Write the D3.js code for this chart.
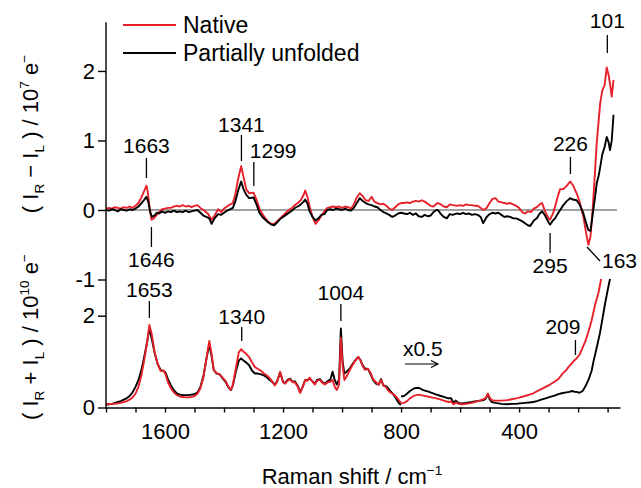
<!DOCTYPE html>
<html>
<head>
<meta charset="utf-8">
<script src="https://cdn.jsdelivr.net/npm/d3@7"></script>
<style>
  body { margin: 0; background: #fff; }
  svg { display: block; font-family: "Liberation Sans", Arial, sans-serif; }
</style>
</head>
<body>
<svg id="chart" width="641" height="488"></svg>
<script>
// ROA spectra, (I_R - I_L) in units of 10^7 e-, pairs of [shift cm-1, value]
var roaNative = [
  [1800, 0.02], [1790, 0.03], [1780, 0.02], [1770, 0.04], [1760, 0.03], [1750, 0.02], [1740, 0.04],
  [1730, 0.03], [1720, 0.05], [1710, 0.03], [1700, 0.06], [1690, 0.10], [1680, 0.18], [1670, 0.28],
  [1663, 0.35], [1658, 0.25], [1652, 0.02], [1646, -0.14], [1638, -0.12], [1630, -0.08], [1620, -0.03],
  [1610, 0.01], [1600, 0.02], [1590, 0.03], [1580, 0.03], [1570, 0.05], [1560, 0.06], [1550, 0.05],
  [1540, 0.07], [1530, 0.05], [1520, 0.06], [1510, 0.04], [1500, 0.06], [1490, 0.07], [1480, 0.03],
  [1470, 0.0], [1455, -0.05], [1442, -0.14], [1432, -0.08], [1420, 0.01], [1410, -0.03], [1400, 0.02],
  [1390, 0.05], [1380, 0.08], [1370, 0.10], [1362, 0.22], [1352, 0.45], [1342, 0.63], [1334, 0.48],
  [1325, 0.30], [1315, 0.24], [1300, 0.25], [1290, 0.15], [1280, 0.02], [1270, -0.06], [1260, -0.12],
  [1250, -0.17], [1240, -0.20], [1230, -0.20], [1220, -0.16], [1210, -0.12], [1200, -0.08], [1190, -0.04],
  [1180, 0.0], [1170, 0.03], [1160, 0.07], [1150, 0.10], [1140, 0.14], [1130, 0.22], [1125, 0.28],
  [1118, 0.20], [1110, 0.05], [1100, -0.10], [1090, -0.20], [1080, -0.15], [1070, -0.08], [1060, -0.02],
  [1050, 0.03], [1040, 0.04], [1030, 0.05], [1020, 0.04], [1010, 0.05], [1000, 0.03], [990, 0.05],
  [980, 0.04], [970, 0.02], [960, 0.08], [950, 0.18], [940, 0.24], [930, 0.20], [920, 0.14], [910, 0.13],
  [900, 0.19], [890, 0.12], [880, 0.10], [870, 0.08], [860, 0.09], [850, 0.06], [840, 0.02], [830, 0.0],
  [820, 0.04], [810, 0.08], [800, 0.10], [790, 0.10], [780, 0.11], [770, 0.10], [760, 0.12], [750, 0.13],
  [740, 0.12], [730, 0.14], [720, 0.12], [710, 0.09], [700, 0.06], [690, 0.05], [680, 0.09], [675, 0.10],
  [665, 0.08], [655, 0.05], [645, 0.04], [635, 0.08], [625, 0.07], [610, 0.06], [600, 0.07], [590, 0.06],
  [580, 0.08], [570, 0.07], [560, 0.07], [550, 0.06], [540, 0.06], [530, 0.03], [520, 0.0], [510, 0.03],
  [500, 0.10], [490, 0.16], [480, 0.17], [470, 0.12], [460, 0.11], [450, 0.10], [440, 0.09], [430, 0.10],
  [420, 0.08], [410, 0.06], [400, 0.03], [390, -0.03], [380, -0.05], [370, -0.02], [360, -0.03],
  [350, 0.02], [340, 0.04], [330, 0.08], [322, 0.10], [312, -0.02], [300, -0.12], [295, -0.14],
  [285, -0.05], [278, 0.05], [270, 0.18], [261, 0.30], [250, 0.30], [240, 0.34], [227, 0.41], [218, 0.36],
  [205, 0.24], [195, 0.12], [182, -0.10], [172, -0.35], [165, -0.50], [158, -0.38], [150, 0.05],
  [142, 0.60], [137, 0.96], [130, 1.30], [125, 1.54], [118, 1.72], [110, 1.80], [103, 2.05], [97, 1.95],
  [92, 1.82], [86, 1.63], [80, 1.87]
];

var roaUnfolded = [
  [1800, 0.0], [1790, -0.01], [1780, 0.01], [1770, 0.0], [1760, -0.02], [1750, 0.01], [1740, 0.0],
  [1730, -0.01], [1720, 0.01], [1710, 0.0], [1700, 0.02], [1690, 0.05], [1680, 0.10], [1670, 0.15],
  [1663, 0.19], [1657, 0.12], [1650, -0.03], [1644, -0.10], [1636, -0.08], [1628, -0.04], [1620, -0.05],
  [1610, -0.02], [1600, -0.04], [1590, -0.02], [1580, -0.03], [1570, -0.01], [1560, -0.03], [1550, -0.02],
  [1540, -0.03], [1530, -0.01], [1520, -0.03], [1510, -0.02], [1500, -0.01], [1490, 0.0], [1480, -0.04],
  [1470, -0.08], [1460, -0.10], [1450, -0.12], [1442, -0.20], [1432, -0.12], [1420, -0.06], [1410, -0.07],
  [1400, -0.04], [1390, -0.01], [1380, 0.01], [1370, 0.03], [1362, 0.12], [1352, 0.28], [1342, 0.41],
  [1334, 0.30], [1325, 0.22], [1315, 0.17], [1300, 0.18], [1290, 0.08], [1280, -0.04], [1270, -0.10],
  [1260, -0.14], [1250, -0.18], [1240, -0.21], [1230, -0.22], [1220, -0.18], [1210, -0.13], [1200, -0.10],
  [1190, -0.07], [1180, -0.04], [1170, -0.01], [1160, 0.03], [1150, 0.05], [1140, 0.08], [1130, 0.12],
  [1125, 0.15], [1118, 0.10], [1110, -0.02], [1100, -0.10], [1090, -0.15], [1080, -0.12], [1070, -0.07],
  [1060, -0.06], [1050, 0.0], [1040, 0.01], [1030, 0.0], [1020, 0.02], [1010, 0.01], [1000, 0.0],
  [990, 0.02], [980, 0.0], [970, -0.01], [960, 0.03], [950, 0.10], [940, 0.17], [930, 0.13], [920, 0.10],
  [910, 0.08], [900, 0.07], [890, 0.05], [880, 0.04], [870, 0.0], [860, -0.03], [850, -0.05], [840, -0.07],
  [830, -0.10], [820, -0.08], [810, -0.05], [800, -0.04], [790, -0.05], [780, -0.06], [770, -0.04],
  [760, -0.07], [750, -0.05], [740, -0.09], [730, -0.10], [720, -0.07], [710, -0.09], [700, -0.08],
  [690, -0.03], [680, 0.0], [675, 0.0], [665, -0.06], [655, -0.10], [645, -0.12], [635, -0.06],
  [625, -0.07], [610, -0.05], [600, -0.06], [590, -0.04], [580, -0.06], [570, -0.05], [560, -0.07],
  [550, -0.06], [540, -0.07], [530, -0.10], [522, -0.19], [510, -0.10], [500, -0.06], [490, -0.04],
  [480, -0.05], [470, -0.04], [460, -0.07], [450, -0.10], [440, -0.09], [430, -0.10], [420, -0.12],
  [410, -0.12], [400, -0.14], [390, -0.16], [380, -0.19], [370, -0.22], [362, -0.23], [350, -0.15],
  [340, -0.12], [330, -0.05], [322, -0.02], [312, -0.08], [300, -0.18], [295, -0.21], [285, -0.15],
  [278, -0.12], [270, -0.06], [261, 0.0], [250, 0.07], [240, 0.12], [227, 0.17], [218, 0.15], [205, 0.14],
  [195, 0.08], [182, -0.05], [172, -0.20], [165, -0.29], [158, -0.30], [150, -0.05], [142, 0.20],
  [137, 0.38], [130, 0.50], [125, 0.62], [118, 0.80], [110, 0.91], [103, 1.05], [97, 0.98], [92, 0.86],
  [86, 1.00], [80, 1.37]
];

// Raman spectra, (I_R + I_L) in units of 10^10 e-; below 800 cm-1 shown scaled x0.5
var ramanNativeHigh = [
  [1800, 0.07], [1790, 0.07], [1780, 0.08], [1770, 0.08], [1760, 0.09], [1750, 0.10], [1740, 0.12],
  [1730, 0.14], [1720, 0.17], [1710, 0.22], [1700, 0.30], [1690, 0.45], [1680, 0.70], [1670, 1.05],
  [1660, 1.45], [1653, 1.80], [1645, 1.60], [1635, 1.20], [1625, 0.95], [1615, 0.80], [1605, 0.80],
  [1598, 0.72], [1590, 0.55], [1580, 0.42], [1570, 0.33], [1560, 0.27], [1550, 0.24], [1540, 0.23],
  [1530, 0.22], [1520, 0.22], [1510, 0.23], [1500, 0.25], [1490, 0.30], [1480, 0.42], [1470, 0.65],
  [1460, 1.05], [1450, 1.45], [1443, 1.20], [1435, 0.82], [1425, 0.75], [1415, 0.72], [1405, 0.65],
  [1395, 0.58], [1385, 0.45], [1377, 0.38], [1370, 0.50], [1360, 0.85], [1350, 1.20], [1342, 1.27],
  [1335, 1.22], [1325, 1.17], [1315, 1.10], [1305, 0.98], [1295, 0.88], [1285, 0.84], [1275, 0.80],
  [1265, 0.74], [1255, 0.70], [1245, 0.64], [1235, 0.55], [1228, 0.48], [1220, 0.56], [1210, 0.78],
  [1200, 0.55], [1193, 0.52], [1185, 0.58], [1176, 0.62], [1168, 0.55], [1160, 0.55], [1150, 0.45],
  [1142, 0.32], [1133, 0.45], [1125, 0.60], [1118, 0.58], [1110, 0.65], [1100, 0.56], [1092, 0.50],
  [1085, 0.58], [1075, 0.60], [1066, 0.53], [1058, 0.50], [1048, 0.55], [1040, 0.56], [1032, 0.60],
  [1025, 0.45], [1018, 0.38], [1010, 0.50], [1004, 1.52], [998, 0.90], [992, 0.60], [985, 0.67],
  [975, 0.80], [965, 0.92], [955, 1.02], [945, 1.10], [938, 1.03], [930, 0.90], [922, 0.82], [912, 0.84],
  [903, 0.75], [895, 0.62], [885, 0.55], [876, 0.50], [868, 0.60], [860, 0.48], [852, 0.45], [845, 0.38],
  [837, 0.33], [828, 0.30], [820, 0.26], [812, 0.20], [805, 0.14], [800, 0.10]
];
var ramanNativeLow = [
  [800, 0.09], [790, 0.10], [780, 0.14], [770, 0.20], [755, 0.26], [740, 0.28], [725, 0.26], [710, 0.24],
  [696, 0.22], [680, 0.20], [665, 0.17], [655, 0.15], [640, 0.12], [630, 0.13], [622, 0.07], [615, 0.11],
  [605, 0.08], [595, 0.07], [580, 0.08], [560, 0.10], [545, 0.13], [530, 0.16], [520, 0.18], [512, 0.22],
  [506, 0.30], [500, 0.22], [493, 0.16], [480, 0.15], [460, 0.15], [440, 0.16], [425, 0.18], [410, 0.20],
  [397, 0.22], [380, 0.25], [365, 0.28], [352, 0.31], [340, 0.35], [325, 0.40], [310, 0.45], [295, 0.50],
  [280, 0.56], [267, 0.62], [255, 0.72], [240, 0.82], [230, 0.90], [220, 0.97], [212, 1.03], [205, 1.07],
  [195, 1.15], [185, 1.30], [175, 1.45], [165, 1.65], [154, 1.90], [142, 2.25], [131, 2.50], [122, 2.80],
  [112, 3.10]
];

var ramanUnfoldedHigh = [
  [1800, 0.06], [1790, 0.07], [1780, 0.08], [1770, 0.10], [1760, 0.12], [1750, 0.14], [1740, 0.17],
  [1730, 0.20], [1720, 0.25], [1710, 0.33], [1700, 0.45], [1690, 0.60], [1680, 0.82], [1670, 1.12],
  [1660, 1.45], [1653, 1.72], [1645, 1.50], [1635, 1.18], [1625, 0.95], [1615, 0.82], [1605, 0.80],
  [1598, 0.76], [1590, 0.62], [1580, 0.48], [1570, 0.38], [1560, 0.31], [1550, 0.28], [1540, 0.27],
  [1530, 0.27], [1520, 0.27], [1510, 0.28], [1500, 0.29], [1490, 0.33], [1480, 0.45], [1470, 0.68],
  [1460, 1.05], [1450, 1.37], [1443, 1.15], [1435, 0.82], [1425, 0.74], [1415, 0.72], [1405, 0.64],
  [1395, 0.56], [1385, 0.44], [1377, 0.38], [1370, 0.48], [1360, 0.78], [1350, 1.02], [1342, 1.07],
  [1335, 1.03], [1325, 0.98], [1315, 0.92], [1305, 0.80], [1295, 0.74], [1285, 0.74], [1275, 0.72],
  [1265, 0.70], [1255, 0.66], [1245, 0.60], [1235, 0.55], [1228, 0.50], [1220, 0.57], [1210, 0.76],
  [1200, 0.56], [1193, 0.53], [1185, 0.60], [1176, 0.63], [1168, 0.56], [1160, 0.57], [1150, 0.47],
  [1142, 0.33], [1133, 0.46], [1125, 0.60], [1118, 0.60], [1110, 0.63], [1100, 0.57], [1092, 0.52],
  [1085, 0.60], [1075, 0.62], [1066, 0.55], [1058, 0.52], [1048, 0.58], [1040, 0.60], [1032, 0.78],
  [1025, 0.60], [1018, 0.50], [1010, 0.62], [1004, 1.72], [998, 1.00], [992, 0.74], [985, 0.78],
  [975, 0.84], [965, 0.94], [955, 1.03], [945, 1.10], [938, 1.04], [930, 0.92], [922, 0.85], [912, 0.84],
  [903, 0.72], [895, 0.60], [885, 0.52], [876, 0.50], [868, 0.62], [860, 0.48], [852, 0.47], [845, 0.43],
  [837, 0.36], [828, 0.30], [820, 0.23], [812, 0.14], [805, 0.08], [800, 0.06]
];
var ramanUnfoldedLow = [
  [800, 0.24], [790, 0.25], [780, 0.30], [770, 0.36], [755, 0.42], [740, 0.43], [725, 0.38], [710, 0.35],
  [696, 0.32], [680, 0.28], [665, 0.25], [655, 0.23], [640, 0.20], [630, 0.20], [622, 0.10], [615, 0.15],
  [605, 0.10], [595, 0.09], [580, 0.10], [560, 0.12], [545, 0.14], [530, 0.15], [520, 0.16], [512, 0.20],
  [506, 0.30], [500, 0.18], [493, 0.12], [480, 0.10], [460, 0.08], [440, 0.07], [425, 0.08], [410, 0.08],
  [397, 0.09], [380, 0.10], [365, 0.11], [352, 0.12], [340, 0.14], [325, 0.17], [310, 0.20], [295, 0.23],
  [280, 0.26], [267, 0.29], [255, 0.31], [240, 0.33], [230, 0.34], [220, 0.36], [212, 0.34], [205, 0.34],
  [195, 0.32], [185, 0.36], [176, 0.45], [165, 0.60], [154, 0.80], [148, 1.00], [137, 1.30], [126, 1.62],
  [117, 1.95], [109, 2.25], [100, 2.55], [92, 2.80], [85, 3.00]
];

var seriesNames = ["Native", "Partially unfolded"];
var seriesColors = ["#e8202a", "#000000"];

var xTicks = d3.range(1800, 99, -100);
var xTickLabels = [1600, 1200, 800, 400];
var roaTicks = [2, 1, 0, -1];
var ramanTicks = [2, 0];

// peak labels: text, shift, tick top/bottom (px), label baseline (px)
var peaks = [
  { text: "1663", shift: 1663, y1: 158, y2: 178, ty: 153 },
  { text: "1341", shift: 1341, y1: 135, y2: 161, ty: 132 },
  { text: "1299", shift: 1299, y1: 162, y2: 186, ty: 158, anchor: "start", dx: -4 },
  { text: "1646", shift: 1646, y1: 227, y2: 247, ty: 267 },
  { text: "226", shift: 226, y1: 157, y2: 174, ty: 151 },
  { text: "101", shift: 101, y1: 35, y2: 53, ty: 28 },
  { text: "295", shift: 295, y1: 233, y2: 253, ty: 273 },
  { text: "1653", shift: 1653, y1: 301, y2: 318, ty: 297 },
  { text: "1340", shift: 1340, y1: 327, y2: 341, ty: 324 },
  { text: "1004", shift: 1004, y1: 304, y2: 321, ty: 300 },
  { text: "209", shift: 209, y1: 340, y2: 355, ty: 334, anchor: "end", dx: 5 }
];

var svg = d3.select("#chart");
var font = "'Liberation Sans', Arial, sans-serif";

var x = d3.scaleLinear().domain([1800, 58]).range([106, 620]);
var yTop = d3.scaleLinear().domain([-1, 2.7]).range([279.5, 22.3]);
var yBot = d3.scaleLinear().domain([0, 2.8]).range([407.5, 279]);

svg.append("defs").append("clipPath")
  .attr("id", "clipBot")
  .append("rect")
  .attr("x", 106).attr("y", 279)
  .attr("width", 520).attr("height", 130);

// zero line of the ROA panel
svg.append("line")
  .attr("x1", x(1800)).attr("x2", 617)
  .attr("y1", yTop(0)).attr("y2", yTop(0))
  .attr("stroke", "#444").attr("stroke-width", 1);

function lineFor(yScale) {
  return d3.line()
    .x(function (d) { return x(d[0]); })
    .y(function (d) { return yScale(d[1]); });
}

var topSeries = [roaNative, roaUnfolded];
topSeries.forEach(function (data, i) {
  svg.append("path")
    .datum(data)
    .attr("fill", "none")
    .attr("stroke", seriesColors[i])
    .attr("stroke-width", 1.9)
    .attr("stroke-linejoin", "round")
    .attr("d", lineFor(yTop));
});

var botSeries = [[ramanNativeHigh, ramanNativeLow], [ramanUnfoldedHigh, ramanUnfoldedLow]];
var gBot = svg.append("g").attr("clip-path", "url(#clipBot)");
[1, 0].forEach(function (i) {
  botSeries[i].forEach(function (data) {
    gBot.append("path")
      .datum(data)
      .attr("fill", "none")
      .attr("stroke", seriesColors[i])
      .attr("stroke-width", 1.9)
      .attr("stroke-linejoin", "round")
      .attr("d", lineFor(yBot));
  });
});

// axes
var xAxis = d3.axisBottom(x)
  .tickValues(xTicks)
  .tickSize(5)
  .tickSizeOuter(0)
  .tickPadding(11)
  .tickFormat(function (d) { return xTickLabels.indexOf(d) >= 0 ? d : ""; });

var gx = svg.append("g")
  .attr("transform", "translate(0," + yBot(0) + ")")
  .call(xAxis);

var yFormat = function (d) { return d < 0 ? "-" + Math.abs(d) : String(d); };

var gyTop = svg.append("g")
  .attr("transform", "translate(" + x(1800) + ",0)")
  .call(d3.axisLeft(yTop).tickValues(roaTicks).tickSize(8).tickPadding(3).tickFormat(yFormat));

var gyBot = svg.append("g")
  .attr("transform", "translate(" + x(1800) + ",0)")
  .call(d3.axisLeft(yBot).tickValues(ramanTicks).tickSize(8).tickPadding(3).tickFormat(yFormat));

[gyTop, gyBot].forEach(function (g) { g.select(".domain").remove(); });

[gx, gyTop, gyBot].forEach(function (g) {
  g.selectAll("text").attr("font-size", 22).attr("font-family", font).attr("fill", "#000");
  g.selectAll("line").attr("stroke-width", 1.4);
  g.select(".domain").attr("stroke-width", 1.4);
});

svg.append("line")
  .attr("x1", x(1800)).attr("x2", x(1800))
  .attr("y1", yTop(2.7)).attr("y2", yBot(0) + 0.7)
  .attr("stroke", "#000").attr("stroke-width", 1.4);

// axis titles with sub/superscripts
function richText(sel, parts, size) {
  var shift = 0;
  parts.forEach(function (p) {
    var target = p[1] === "sub" ? 6 : (p[1] === "sup" ? -9 : 0);
    sel.append("tspan")
      .attr("dy", target - shift)
      .attr("font-size", p[1] === "n" ? size : size * 0.62)
      .text(p[0]);
    shift = target;
  });
}

var t1 = svg.append("text")
  .attr("transform", "translate(38,134) rotate(-90)")
  .attr("text-anchor", "middle")
  .attr("font-family", font);
richText(t1, [["( I", "n"], ["R", "sub"], [" \u2212 I", "n"], ["L", "sub"], [" ) / 10", "n"], ["7", "sup"], [" e", "n"], ["\u2212", "sup"]], 22);

var t2 = svg.append("text")
  .attr("transform", "translate(38,337) rotate(-90)")
  .attr("text-anchor", "middle")
  .attr("font-family", font);
richText(t2, [["( I", "n"], ["R", "sub"], [" + I", "n"], ["L", "sub"], [" ) / 10", "n"], ["10", "sup"], [" e", "n"], ["\u2212", "sup"]], 22);

var t3 = svg.append("text")
  .attr("x", 352).attr("y", 484)
  .attr("text-anchor", "middle")
  .attr("font-family", font);
richText(t3, [["Raman shift / cm", "n"], ["\u22121", "sup"]], 22);

// peak markers
var gPeaks = svg.append("g").attr("font-family", font).attr("font-size", 21);
peaks.forEach(function (p) {
  gPeaks.append("line")
    .attr("x1", x(p.shift)).attr("x2", x(p.shift))
    .attr("y1", p.y1).attr("y2", p.y2)
    .attr("stroke", "#000").attr("stroke-width", 1.3);
  gPeaks.append("text")
    .attr("x", x(p.shift) + (p.dx || 0))
    .attr("y", p.ty)
    .attr("text-anchor", p.anchor || "middle")
    .text(p.text);
});

// 163 is marked with a slanted leader
gPeaks.append("line")
  .attr("x1", x(163) - 2).attr("y1", 247)
  .attr("x2", x(163) + 11).attr("y2", 261)
  .attr("stroke", "#000").attr("stroke-width", 1.3);
gPeaks.append("text")
  .attr("x", x(163) + 13).attr("y", 268)
  .text("163");

// x0.5 scaling note for the low-shift part of the Raman spectra
gPeaks.append("text").attr("x", 403).attr("y", 356).text("x0.5");
gPeaks.append("path")
  .attr("d", "M405,364 H438 M431,360.5 L438,364 L431,367.5")
  .attr("fill", "none").attr("stroke", "#000").attr("stroke-width", 1.2);

// legend
var legend = svg.append("g").attr("font-family", font).attr("font-size", 23);
seriesNames.forEach(function (name, i) {
  var ly = 25 + i * 28;
  legend.append("line")
    .attr("x1", 123).attr("x2", 176)
    .attr("y1", ly).attr("y2", ly)
    .attr("stroke", seriesColors[i]).attr("stroke-width", 1.9);
  legend.append("text")
    .attr("x", 183).attr("y", ly + 8)
    .text(name);
});
</script>
</body>
</html>
